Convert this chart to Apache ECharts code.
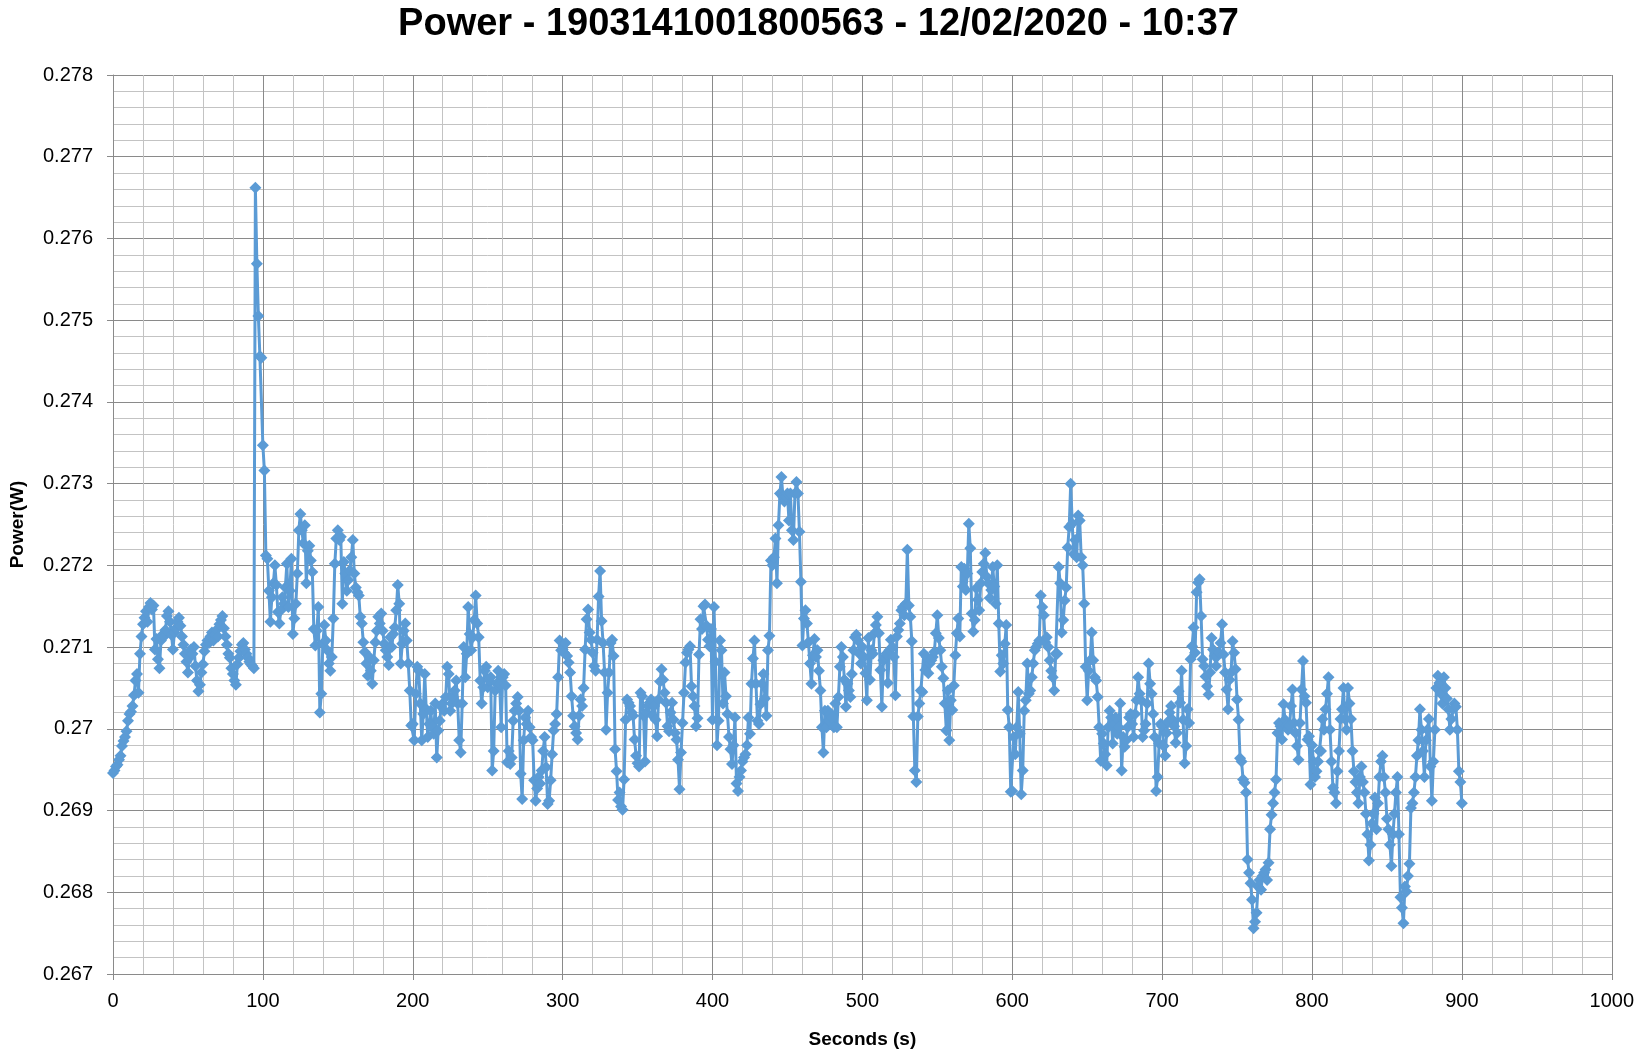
<!DOCTYPE html>
<html>
<head>
<meta charset="utf-8">
<script src="https://cdn.jsdelivr.net/npm/echarts@6/dist/echarts.min.js"></script>
<style>
html,body{margin:0;padding:0;background:#fff;}
#chart{width:1637px;height:1054px;}
</style>
</head>
<body>
<div id="chart"></div>
<script>
const chartTitle = 'Power - 1903141001800563 - 12/02/2020 - 10:37';
const xAxisTitle = 'Seconds (s)';
const yAxisTitle = 'Power(W)';
const sampleIntervalSeconds = 1;

// Power readings (W), one per second, in 100-second blocks
const power000 = [0.26946,0.26949,0.26954,0.26956,0.26962,0.26967,0.26979,0.26985,0.26990,0.26997,
0.27010,0.27018,0.27021,0.27028,0.27041,0.27059,0.27067,0.27044,0.27092,0.27113,
0.27128,0.27136,0.27144,0.27131,0.27149,0.27154,0.27146,0.27151,0.27097,0.27110,
0.27085,0.27074,0.27108,0.27115,0.27113,0.27121,0.27138,0.27144,0.27131,0.27115,
0.27097,0.27118,0.27123,0.27131,0.27136,0.27126,0.27113,0.27103,0.27092,0.27082,
0.27069,0.27087,0.27097,0.27092,0.27100,0.27077,0.27059,0.27046,0.27054,0.27069,
0.27079,0.27095,0.27103,0.27108,0.27105,0.27113,0.27118,0.27108,0.27115,0.27121,
0.27113,0.27128,0.27133,0.27138,0.27123,0.27113,0.27103,0.27092,0.27087,0.27074,
0.27067,0.27059,0.27054,0.27079,0.27087,0.27095,0.27103,0.27105,0.27097,0.27092,
0.27087,0.27082,0.27079,0.27077,0.27074,0.27662,0.27569,0.27505,0.27456,0.27454];
const power100 = [0.27347,0.27316,0.27212,0.27208,0.27169,0.27131,0.27161,0.27178,0.27200,0.27176,
0.27143,0.27129,0.27145,0.27161,0.27153,0.27173,0.27202,0.27149,0.27169,0.27208,
0.27116,0.27135,0.27153,0.27190,0.27243,0.27263,0.27243,0.27227,0.27249,0.27178,
0.27218,0.27224,0.27206,0.27192,0.27122,0.27102,0.27120,0.27149,0.27020,0.27043,
0.27104,0.27127,0.27108,0.27096,0.27080,0.27071,0.27088,0.27135,0.27202,0.27233,
0.27243,0.27231,0.27235,0.27153,0.27204,0.27190,0.27169,0.27182,0.27194,0.27210,
0.27231,0.27190,0.27173,0.27167,0.27163,0.27137,0.27129,0.27106,0.27094,0.27080,
0.27065,0.27088,0.27071,0.27055,0.27084,0.27106,0.27120,0.27137,0.27129,0.27141,
0.27120,0.27104,0.27096,0.27088,0.27078,0.27112,0.27100,0.27116,0.27124,0.27145,
0.27176,0.27153,0.27080,0.27104,0.27120,0.27129,0.27108,0.27080,0.27047,0.27004];
const power200 = [0.27006,0.26986,0.27043,0.27076,0.27071,0.27031,0.26986,0.27018,0.27067,0.27024,
0.26990,0.27006,0.27022,0.27002,0.26994,0.27031,0.26965,0.26998,0.27010,0.27027,
0.27031,0.27022,0.27039,0.27076,0.27067,0.27022,0.27031,0.27039,0.27047,0.27059,
0.27031,0.26986,0.26971,0.27031,0.27100,0.27063,0.27092,0.27149,0.27116,0.27096,
0.27112,0.27133,0.27163,0.27129,0.27112,0.27059,0.27031,0.27051,0.27071,0.27076,
0.27051,0.27059,0.27063,0.26949,0.26973,0.27047,0.27055,0.27071,0.27055,0.27002,
0.27063,0.27067,0.27053,0.26959,0.26973,0.26957,0.26965,0.27010,0.27022,0.27031,
0.27039,0.27022,0.26945,0.26914,0.26986,0.27014,0.27006,0.27022,0.27002,0.26990,
0.26986,0.26937,0.26912,0.26927,0.26941,0.26933,0.26949,0.26973,0.26990,0.26953,
0.26908,0.26912,0.26937,0.26969,0.26998,0.27006,0.27018,0.27063,0.27108,0.27096];
const power300 = [0.27097,0.27093,0.27105,0.27089,0.27081,0.27069,0.27040,0.27016,0.27003,0.26995,
0.26987,0.27016,0.27036,0.27028,0.27050,0.27097,0.27134,0.27146,0.27118,0.27109,
0.27093,0.27077,0.27071,0.27109,0.27162,0.27193,0.27132,0.27105,0.27069,0.26999,
0.27044,0.27069,0.27105,0.27109,0.27089,0.26975,0.26948,0.26913,0.26922,0.26905,
0.26901,0.26938,0.27011,0.27036,0.27032,0.27028,0.27020,0.27016,0.26987,0.26967,
0.26958,0.26954,0.27044,0.27040,0.27016,0.26960,0.27020,0.27028,0.27032,0.27036,
0.27016,0.27028,0.27011,0.26991,0.27036,0.27058,0.27073,0.27060,0.27044,0.27032,
0.27003,0.26997,0.27020,0.27032,0.27011,0.26995,0.26987,0.26962,0.26926,0.26971,
0.27007,0.27044,0.27081,0.27093,0.27097,0.27101,0.27052,0.27040,0.27028,0.27003,
0.27013,0.27091,0.27134,0.27122,0.27150,0.27152,0.27126,0.27109,0.27101,0.27122];
const power400 = [0.27011,0.27149,0.27082,0.26980,0.27010,0.27108,0.27096,0.27031,0.27069,0.27040,
0.27018,0.26990,0.26975,0.26957,0.26980,0.27014,0.26933,0.26924,0.26941,0.26949,
0.26960,0.26965,0.26969,0.26980,0.27014,0.26994,0.27055,0.27086,0.27108,0.27055,
0.27010,0.27006,0.27030,0.27055,0.27067,0.27037,0.27016,0.27096,0.27114,0.27206,
0.27200,0.27210,0.27233,0.27178,0.27249,0.27288,0.27308,0.27284,0.27278,0.27284,
0.27288,0.27255,0.27288,0.27243,0.27231,0.27288,0.27302,0.27288,0.27241,0.27180,
0.27102,0.27135,0.27145,0.27129,0.27106,0.27080,0.27055,0.27090,0.27110,0.27088,
0.27096,0.27071,0.27047,0.27002,0.26971,0.27022,0.27002,0.27022,0.27010,0.27018,
0.27014,0.27002,0.27031,0.27002,0.27039,0.27076,0.27100,0.27088,0.27060,0.27027,
0.27055,0.27047,0.27039,0.27067,0.27096,0.27112,0.27115,0.27108,0.27092,0.27080];
const power500 = [0.27100,0.27088,0.27068,0.27035,0.27111,0.27060,0.27096,0.27092,0.27117,0.27127,
0.27137,0.27117,0.27072,0.27027,0.27084,0.27088,0.27092,0.27056,0.27096,0.27109,
0.27100,0.27088,0.27041,0.27113,0.27121,0.27129,0.27145,0.27149,0.27139,0.27153,
0.27219,0.27151,0.27137,0.27107,0.27015,0.26949,0.26935,0.27015,0.27031,0.27047,
0.27045,0.27092,0.27072,0.27088,0.27068,0.27080,0.27084,0.27088,0.27094,0.27117,
0.27139,0.27111,0.27096,0.27076,0.27062,0.27031,0.26998,0.27047,0.26986,0.27035,
0.27023,0.27053,0.27090,0.27117,0.27135,0.27113,0.27198,0.27174,0.27196,0.27170,
0.27190,0.27251,0.27221,0.27141,0.27119,0.27133,0.27172,0.27158,0.27145,0.27178,
0.27192,0.27202,0.27215,0.27186,0.27178,0.27160,0.27170,0.27198,0.27174,0.27153,
0.27200,0.27129,0.27070,0.27090,0.27080,0.27104,0.27127,0.27023,0.27002,0.26923];
const power600 = [0.26924,0.26990,0.26969,0.27002,0.27045,0.26994,0.26920,0.26949,0.27022,0.27035,
0.27080,0.27043,0.27047,0.27063,0.27080,0.27096,0.27100,0.27104,0.27108,0.27163,
0.27149,0.27139,0.27106,0.27112,0.27100,0.27084,0.27071,0.27063,0.27047,0.27092,
0.27092,0.27198,0.27178,0.27118,0.27133,0.27157,0.27173,0.27222,0.27247,0.27300,
0.27251,0.27214,0.27231,0.27210,0.27261,0.27255,0.27210,0.27200,0.27153,0.27076,
0.27035,0.27071,0.27084,0.27118,0.27084,0.27063,0.27059,0.27039,0.27002,0.26961,
0.26994,0.26982,0.26969,0.26955,0.27002,0.27022,0.27014,0.26982,0.27006,0.27014,
0.26994,0.27002,0.27031,0.26949,0.26990,0.26978,0.26986,0.27002,0.27014,0.27018,
0.27006,0.26990,0.27018,0.27035,0.27063,0.27043,0.27035,0.26990,0.26998,0.27006,
0.27031,0.27080,0.27055,0.27043,0.27018,0.26990,0.26924,0.26941,0.26982,0.27006];
const power700 = [0.27003,0.26979,0.26967,0.26995,0.27009,0.27020,0.27028,0.27011,0.27003,0.26983,
0.26995,0.27046,0.27032,0.27071,0.27011,0.26958,0.26979,0.27024,0.27007,0.27085,
0.27101,0.27124,0.27093,0.27167,0.27179,0.27183,0.27138,0.27085,0.27077,0.27064,
0.27052,0.27042,0.27069,0.27111,0.27097,0.27089,0.27077,0.27089,0.27093,0.27105,
0.27128,0.27091,0.27069,0.27048,0.27024,0.27060,0.27069,0.27107,0.27093,0.27073,
0.27036,0.27011,0.26964,0.26960,0.26938,0.26934,0.26922,0.26840,0.26824,0.26811,
0.26791,0.26756,0.26764,0.26775,0.26807,0.26815,0.26803,0.26820,0.26824,0.26828,
0.26815,0.26836,0.26877,0.26895,0.26909,0.26922,0.26938,0.26995,0.27007,0.27003,
0.26987,0.27030,0.27011,0.27003,0.26999,0.27003,0.27028,0.27048,0.27007,0.26995,
0.26979,0.26962,0.27007,0.27048,0.27083,0.27040,0.27032,0.26987,0.26991,0.26932];
const power800 = [0.26980,0.26960,0.26941,0.26948,0.26960,0.26973,0.26973,0.27012,0.26999,0.27024,
0.27043,0.27063,0.26999,0.26960,0.26928,0.26922,0.26909,0.26948,0.26973,0.27012,
0.27024,0.27050,0.27012,0.26999,0.27050,0.27031,0.27012,0.26973,0.26948,0.26935,
0.26922,0.26909,0.26941,0.26954,0.26935,0.26922,0.26896,0.26871,0.26839,0.26858,
0.26884,0.26896,0.26916,0.26877,0.26909,0.26941,0.26960,0.26967,0.26941,0.26922,
0.26890,0.26877,0.26858,0.26832,0.26871,0.26896,0.26922,0.26941,0.26871,0.26794,
0.26781,0.26762,0.26807,0.26801,0.26820,0.26835,0.26903,0.26909,0.26922,0.26941,
0.26967,0.26986,0.27024,0.26999,0.26973,0.26941,0.26986,0.26999,0.27012,0.26954,
0.26912,0.26960,0.26999,0.27050,0.27065,0.27056,0.27043,0.27031,0.27063,0.27050,
0.27037,0.27024,0.26999,0.27012,0.27024,0.27031,0.27027,0.26999,0.26948,0.26935,
0.26909];

const blocks = [
  {start: 0, values: power000},
  {start: 100, values: power100},
  {start: 200, values: power200},
  {start: 300, values: power300},
  {start: 400, values: power400},
  {start: 500, values: power500},
  {start: 600, values: power600},
  {start: 700, values: power700},
  {start: 800, values: power800}
];

const seriesData = [];
blocks.forEach(b => {
  b.values.forEach((v, i) => seriesData.push([b.start + i * sampleIntervalSeconds, v]));
});

const FONT = '"Liberation Sans", Arial, sans-serif';
const majorColor = '#8a8a8a';
const minorColor = '#c3c3c3';

const chart = echarts.init(document.getElementById('chart'), null, {renderer: 'canvas'});
chart.setOption({
  animation: false,
  backgroundColor: '#ffffff',
  title: {
    text: chartTitle,
    left: 'center',
    top: 1,
    textStyle: {fontFamily: FONT, fontWeight: 'bold', fontSize: 38, color: '#000'}
  },
  grid: {left: 106, right: 25, top: 75, bottom: 79, containLabel: false},
  xAxis: {
    type: 'value',
    min: 0, max: 1000, interval: 100,
    name: xAxisTitle,
    nameLocation: 'middle',
    nameGap: 56,
    nameTextStyle: {fontFamily: FONT, fontWeight: 'bold', fontSize: 19, color: '#000'},
    axisLine: {show: true, lineStyle: {color: majorColor, width: 1}},
    axisTick: {show: true, length: 6, lineStyle: {color: majorColor}},
    axisLabel: {margin: 17, fontFamily: FONT, fontSize: 20, color: '#000', formatter: v => String(v)},
    splitLine: {show: true, lineStyle: {color: majorColor, width: 1}},
    minorTick: {show: false, splitNumber: 5},
    minorSplitLine: {show: true, lineStyle: {color: minorColor, width: 1}}
  },
  yAxis: {
    type: 'value',
    min: 0.267, max: 0.278, interval: 0.001,
    name: yAxisTitle,
    nameLocation: 'middle',
    nameGap: 86,
    nameRotate: 90,
    nameTextStyle: {fontFamily: FONT, fontWeight: 'bold', fontSize: 19, color: '#000'},
    axisLine: {show: true, lineStyle: {color: majorColor, width: 1}},
    axisTick: {show: true, length: 6, lineStyle: {color: majorColor}},
    axisLabel: {margin: 20, fontFamily: FONT, fontSize: 20, color: '#000'},
    splitLine: {show: true, lineStyle: {color: majorColor, width: 1}},
    minorTick: {show: false, splitNumber: 5},
    minorSplitLine: {show: true, lineStyle: {color: minorColor, width: 1}}
  },
  series: [{
    type: 'line',
    data: seriesData,
    symbol: 'diamond',
    symbolSize: 12,
    showAllSymbol: true,
    lineStyle: {color: '#5b9bd5', width: 3},
    itemStyle: {color: '#5b9bd5'},
    emphasis: {disabled: true}
  }]
});
</script>
</body>
</html>
